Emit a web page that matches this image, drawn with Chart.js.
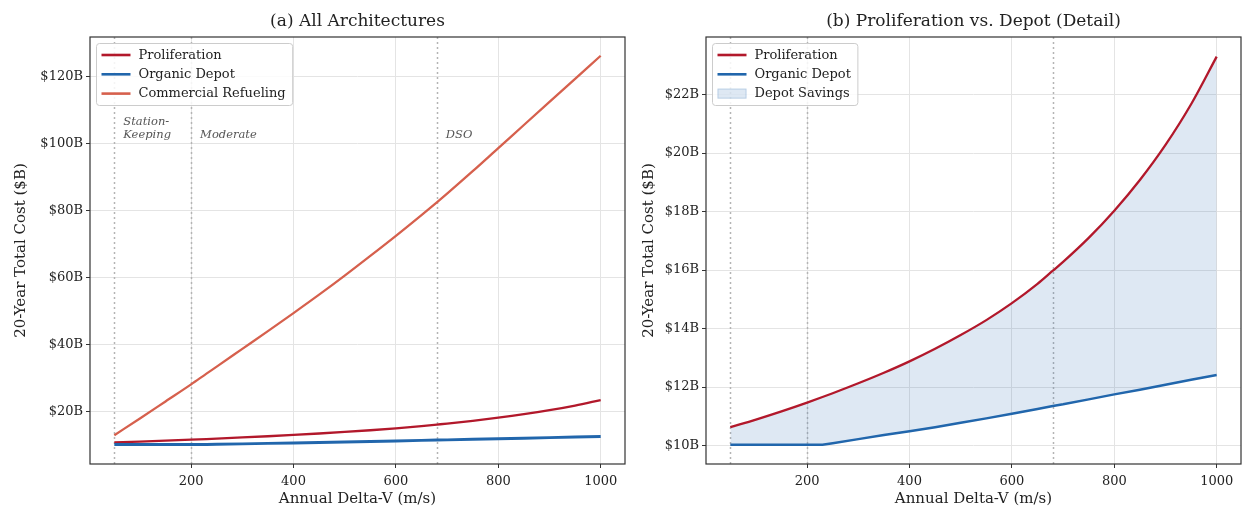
<!DOCTYPE html>
<html><head><meta charset="utf-8">
<script src="https://cdn.jsdelivr.net/npm/chart.js@4.4.1/dist/chart.umd.min.js"></script>
<style>
html,body{margin:0;padding:0;background:#fff;}
#wrap{position:relative;width:1242px;height:509px;background:#fff;}
#cA{position:absolute;left:0;top:0;}
#cB{position:absolute;left:630px;top:0;}
</style></head><body>
<div id="wrap"><canvas id="cA" width="630" height="509"></canvas><canvas id="cB" width="612" height="509"></canvas></div>
<script>
// ---- data ----
const deltaV = [50,100,150,200,230,250,300,350,400,450,500,550,600,650,680,700,750,800,850,900,950,1000];
const proliferation = [10.63,10.89,11.17,11.47,11.66,11.79,12.13,12.49,12.88,13.31,13.78,14.29,14.87,15.53,15.98,16.28,17.10,18.03,19.08,20.28,21.67,23.30];
const organicDepot = [10.03,10.03,10.03,10.03,10.03,10.08,10.22,10.36,10.49,10.63,10.78,10.93,11.09,11.25,11.35,11.41,11.58,11.75,11.91,12.08,12.25,12.41];
const commercialRefueling = [12.8,17.8,22.9,28.0,31.2,33.3,38.6,43.9,49.3,54.8,60.5,66.4,72.4,78.6,82.4,85.0,91.7,98.6,105.5,112.4,119.3,126.2];
const xTicks = [200,400,600,800,1000];
const yTicksA = [20,40,60,80,100,120];
const yTicksB = [10,12,14,16,18,20,22];
const regimeLines = [50,200,680];
const regimeLabels = [['Station-','Keeping'],['Moderate'],['DSO']];
const seriesNames = ['Proliferation','Organic Depot','Commercial Refueling','Depot Savings'];
const titleA = '(a) All Architectures';
const titleB = '(b) Proliferation vs. Depot (Detail)';
const xLabel = 'Annual Delta-V (m/s)';
const yLabel = '20-Year Total Cost ($B)';

// ---- styling ----
const serif = "'DejaVu Serif', 'Liberation Serif', serif";
const RED = '#b2182b', BLUE = '#2166ac', ORANGE = '#d6604d';
const FILL = 'rgba(33,102,172,0.15)';
Chart.defaults.font.family = serif;
Chart.defaults.color = '#222';

const pts = arr => deltaV.map((x,i)=>({x:x, y:arr[i]}));

function decorPlugin(title, legendItems, withLabels) {
  return {
    id: 'decor',
    beforeDatasetsDraw(chart) {
      const {ctx, chartArea:a, scales} = chart;
      ctx.save();
      ctx.strokeStyle = '#b4b4b4';
      ctx.lineWidth = 1.5;
      ctx.setLineDash([2,3]);
      regimeLines.forEach(v => {
        const px = Math.round(scales.x.getPixelForValue(v)) + 0.5;
        ctx.beginPath(); ctx.moveTo(px, a.top); ctx.lineTo(px, a.bottom); ctx.stroke();
      });
      ctx.restore();
    },
    afterDatasetsDraw(chart) {
      const {ctx, chartArea:a, scales} = chart;
      ctx.save();
      if (withLabels) {
        ctx.font = 'italic 11.5px ' + serif;
        ctx.fillStyle = '#555';
        ctx.textAlign = 'left';
        ctx.textBaseline = 'middle';
        const yb = scales.y.getPixelForValue(102.6);
        regimeLines.forEach((v,i) => {
          const px = scales.x.getPixelForValue(v) + 9;
          const lines = regimeLabels[i];
          lines.forEach((t,j) => ctx.fillText(t, px, yb - (lines.length-1-j)*13));
        });
      }
      // frame
      ctx.strokeStyle = '#333';
      ctx.lineWidth = 1.2;
      ctx.setLineDash([]);
      ctx.strokeRect(a.left, a.top, a.right - a.left, a.bottom - a.top);
      // title
      ctx.font = '17px ' + serif;
      ctx.fillStyle = '#222';
      ctx.textAlign = 'center';
      ctx.textBaseline = 'middle';
      ctx.fillText(title, (a.left + a.right)/2, 22);
      // legend
      ctx.font = '13px ' + serif;
      let maxW = 0;
      legendItems.forEach(it => { maxW = Math.max(maxW, ctx.measureText(it.label).width); });
      const bx = a.left + 6.5, by = a.top + 6.5;
      const bw = 42 + maxW + 7, bh = 62;
      ctx.beginPath();
      ctx.roundRect(bx, by, bw, bh, 3);
      ctx.fillStyle = 'rgba(255,255,255,0.85)';
      ctx.fill();
      ctx.strokeStyle = '#cccccc';
      ctx.lineWidth = 1;
      ctx.stroke();
      legendItems.forEach((it,i) => {
        const cy = by + 11.5 + i*19.3;
        if (it.type === 'line') {
          ctx.strokeStyle = it.color; ctx.lineWidth = 2.6;
          ctx.beginPath(); ctx.moveTo(bx+5, cy); ctx.lineTo(bx+34, cy); ctx.stroke();
        } else {
          ctx.fillStyle = it.color; ctx.fillRect(bx+5, cy-5, 29, 10);
          ctx.strokeStyle = 'rgba(33,102,172,0.2)'; ctx.lineWidth = 1;
          ctx.strokeRect(bx+5.5, cy-4.5, 28, 9);
        }
        ctx.fillStyle = '#222';
        ctx.textAlign = 'left';
        ctx.textBaseline = 'middle';
        ctx.fillText(it.label, bx+42, cy+0.5);
      });
      ctx.restore();
    }
  };
}

function scalesFor(yMin, yMax, yTicks, yWidth, yTitlePad) {
  return {
    x: {
      type: 'linear', min: 2.5, max: 1047.5,
      afterBuildTicks: s => { s.ticks = xTicks.map(v => ({value: v})); },
      afterFit: s => { s.height = 45; },
      ticks: {font: {size: 13}, color: '#222', padding: 6, maxRotation: 0, autoSkip: false, callback: v => String(v)},
      grid: {color: '#e4e4e4', lineWidth: 1, tickLength: 4, tickColor: '#333', drawTicks: true},
      border: {display: false},
      title: {display: true, text: xLabel, font: {size: 15}, color: '#222', padding: {top: 0, bottom: 1}}
    },
    y: {
      type: 'linear', min: yMin, max: yMax,
      afterBuildTicks: s => { s.ticks = yTicks.map(v => ({value: v})); },
      afterFit: s => { s.width = yWidth; },
      ticks: {font: {size: 13}, color: '#222', padding: 3, callback: v => '$' + v + 'B'},
      grid: {color: '#e4e4e4', lineWidth: 1, tickLength: 4, tickColor: '#333', drawTicks: true},
      border: {display: false},
      title: {display: true, text: yLabel, font: {size: 15}, color: '#222', padding: {top: yTitlePad, bottom: 0}}
    }
  };
}

const common = {
  responsive: false, animation: false, devicePixelRatio: 1,
  plugins: {legend: {display: false}, tooltip: {enabled: false}},
  elements: {point: {radius: 0}},
};

new Chart(document.getElementById('cA'), {
  type: 'line',
  data: {datasets: [
    {label: seriesNames[0], data: pts(proliferation), borderColor: RED, borderWidth: 2.3, cubicInterpolationMode: 'monotone', order: 3, fill: false},
    {label: seriesNames[1], data: pts(organicDepot), borderColor: BLUE, borderWidth: 2.9, order: 2, fill: false},
    {label: seriesNames[2], data: pts(commercialRefueling), borderColor: ORANGE, borderWidth: 2.3, cubicInterpolationMode: 'monotone', order: 1, fill: false}
  ]},
  options: Object.assign({}, common, {
    layout: {autoPadding: false, padding: {left: 0, right: 5, top: 37, bottom: 0}},
    scales: scalesFor(4.2, 131.8, yTicksA, 90, 12.5)
  }),
  plugins: [decorPlugin(titleA, [
    {label: seriesNames[0], type: 'line', color: RED},
    {label: seriesNames[1], type: 'line', color: BLUE},
    {label: seriesNames[2], type: 'line', color: ORANGE}
  ], true)]
});

new Chart(document.getElementById('cB'), {
  type: 'line',
  data: {datasets: [
    {label: seriesNames[0], data: pts(proliferation), borderColor: RED, borderWidth: 2.3, cubicInterpolationMode: 'monotone', order: 2, fill: false},
    {label: seriesNames[1], data: pts(organicDepot), borderColor: BLUE, borderWidth: 2.5, order: 1, fill: false},
    {label: seriesNames[3], data: pts(proliferation), borderWidth: 0, borderColor: 'rgba(0,0,0,0)', backgroundColor: FILL, cubicInterpolationMode: 'monotone', order: 5, fill: {target: 1}}
  ]},
  options: Object.assign({}, common, {
    layout: {autoPadding: false, padding: {left: 0, right: 1, top: 37, bottom: 0}},
    scales: scalesFor(9.37, 23.97, yTicksB, 76, 10)
  }),
  plugins: [decorPlugin(titleB, [
    {label: seriesNames[0], type: 'line', color: RED},
    {label: seriesNames[1], type: 'line', color: BLUE},
    {label: seriesNames[3], type: 'patch', color: FILL}
  ], false)]
});
</script>
</body></html>
